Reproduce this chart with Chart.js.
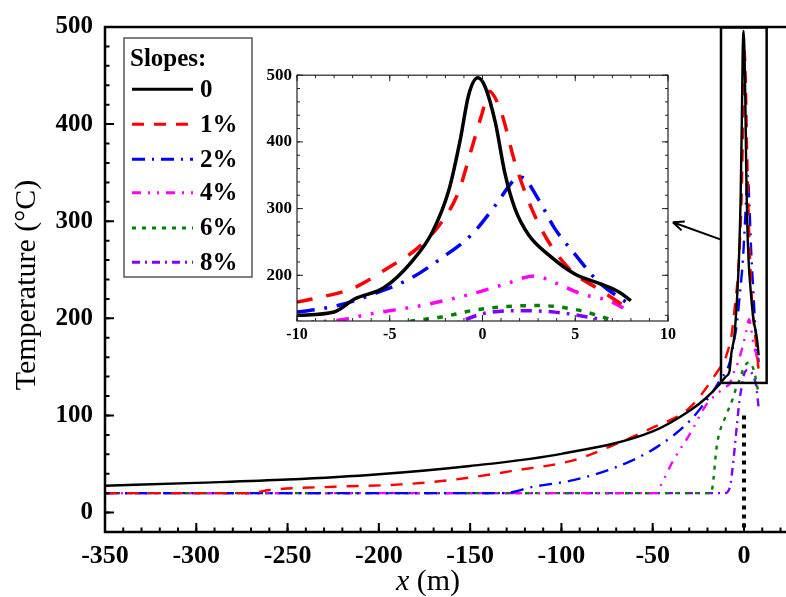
<!DOCTYPE html>
<html>
<head>
<meta charset="utf-8">
<script src="https://cdn.jsdelivr.net/npm/chart.js@4.4.1/dist/chart.umd.min.js"></script>
<style>
  html, body { margin: 0; padding: 0; background: #fff; }
  #wrap { position: relative; width: 786px; height: 597px; overflow: hidden; }
  #main { position: absolute; left: 0; top: 0; }
  #inset { position: absolute; left: 250px; top: 60px; }
</style>
</head>
<body>
<div id="wrap">
  <canvas id="main" width="786" height="597"></canvas>
  <canvas id="inset" width="430" height="290"></canvas>
</div>
<script>
// ── Data ──
const slopeLabels = ['0', '1%', '2%', '4%', '6%', '8%'];
const slopeColors = ['#000000', '#ff0000', '#0000ff', '#ff00ff', '#008000', '#8000ff'];
const slopeDash = [[], [12, 10], [13, 7, 2, 7], [9, 7, 2, 7, 2, 7], [4, 6], [8, 5, 2, 5]];

const x0 = [-350, -300, -250, -200, -150, -100, -50, -29.6, -20.5, -12.5, -10, -8, -6.9, -5.3, -3.8, -2.7, -1.8, -1.2, -0.75, -0.25, 0.15, 0.7, 1.2, 1.75, 2.5, 3.55, 5, 6.4, 7.4, 8];
const t0 = [27.6, 30.6, 34, 39.5, 48, 60.5, 83.5, 105, 118.5, 134, 140, 145, 164.5, 181.7, 221, 265, 329, 403, 470, 496, 482, 428, 354, 300, 260, 231, 201.5, 186.7, 174.3, 162];

const x1 = [-350, -270, -261, -225, -188, -161, -124.5, -93.5, -69.7, -51.5, -29.6, -15, -10, -9.2, -6.9, -5.1, -3.5, -2.2, -1.3, -0.6, 0, 0.35, 1.0, 1.75, 2.65, 3.55, 4.8, 6.4, 8];
const t1 = [20, 20, 23, 26.6, 29, 33.4, 43.6, 53.8, 70.9, 86.2, 108.3, 144, 160, 164.5, 181.7, 211, 240.8, 280, 324.5, 388.5, 445, 476, 445, 368.8, 300, 250.7, 206.4, 177, 147];

const x2 = [-350, -132, -115.4, -93.5, -69.7, -47.8, -29.6, -16.8, -12.2, -10, -7.8, -5.4, -3.8, -2.2, -0.6, 0.7, 1.75, 2.1, 3.0, 3.9, 5.0, 6.2, 8];
const t2 = [20, 20, 26.6, 33.4, 47, 67.4, 94.7, 125.3, 139, 144.8, 154.7, 177, 196.5, 226, 260.6, 305, 344, 347, 314.6, 270, 231, 191.6, 154.7];

const x3 = [-350, -48, -46, -38.7, -29.6, -20.4, -13, -9.5, -7.7, -6, -3.3, -0.6, 1.2, 2.8, 3.9, 5.35, 6.8, 8];
const t3 = [20, 20, 26.6, 53.8, 81, 111.7, 125, 130, 133, 142.4, 154.7, 172, 186.7, 199, 189, 172, 162, 144.8];

const x4 = [-350, -18, -16.8, -15, -9.5, -5.9, -3.8, -2.2, -0.6, 1.2, 3.0, 4.8, 6.2, 7.1, 8];
const t4 = [20, 20, 33.4, 67.4, 101.5, 118.5, 131.5, 137.4, 147, 153, 154.7, 149.8, 140, 131.5, 122];

const x5 = [-350, -10.4, -7.7, -5.8, -4, -2.5, -1.1, 0, 1.9, 3.9, 5.7, 6.6, 8];
const t5 = [20, 20, 26.6, 53.8, 87.9, 115, 131.5, 142.4, 147, 144.8, 137.4, 131.5, 108];

const seriesX = [x0, x1, x2, x3, x4, x5];
const seriesT = [t0, t1, t2, t3, t4, t5];

const xMainTicks = [-350, -300, -250, -200, -150, -100, -50, 0];
const yMainTicks = [0, 100, 200, 300, 400, 500];
const xInsetTicks = [-10, -5, 0, 5, 10];
const yInsetTicks = [200, 300, 400, 500];

// ── Helpers ──
const SERIF = "'Liberation Serif', 'Times New Roman', serif";

function makeSets(width, dashScale) {
  return seriesX.map((xs, i) => ({
    label: slopeLabels[i],
    data: xs.map((x, j) => ({ x, y: seriesT[i][j] })),
    borderColor: slopeColors[i],
    borderWidth: width,
    borderDash: slopeDash[i].map(d => d * dashScale),
    pointRadius: 0,
    fill: false,
    cubicInterpolationMode: 'monotone'
  }));
}

function range(a, b, step) {
  const out = [];
  for (let v = a; v <= b + 1e-9; v += step) out.push(v);
  return out;
}

function tickMarks(ctx, scale, values, len, side, area) {
  ctx.beginPath();
  values.forEach(v => {
    const p = scale.getPixelForValue(v);
    if (side === 'bottom') { ctx.moveTo(p, area.bottom); ctx.lineTo(p, area.bottom - len); }
    if (side === 'top') { ctx.moveTo(p, area.top); ctx.lineTo(p, area.top + len); }
    if (side === 'left') { ctx.moveTo(area.left, p); ctx.lineTo(area.left + len, p); }
    if (side === 'right') { ctx.moveTo(area.right, p); ctx.lineTo(area.right - len, p); }
  });
  ctx.stroke();
}

// ── Main chart decorations ──
const mainDecor = {
  id: 'mainDecor',
  afterDraw(chart) {
    const ctx = chart.ctx;
    const a = chart.chartArea;
    const xs = chart.scales.x, ys = chart.scales.y;
    ctx.save();
    ctx.strokeStyle = '#000';
    ctx.lineCap = 'butt';

    // frame (left, top, bottom)
    ctx.lineWidth = 2.5;
    ctx.beginPath();
    ctx.moveTo(chart.width, a.top); ctx.lineTo(a.left, a.top);
    ctx.lineTo(a.left, a.bottom); ctx.lineTo(chart.width, a.bottom);
    ctx.stroke();

    // inward ticks
    ctx.lineWidth = 2;
    tickMarks(ctx, xs, range(-350, 20, 10), 4.5, 'bottom', a);
    tickMarks(ctx, xs, range(-350, 0, 50), 9, 'bottom', a);
    tickMarks(ctx, ys, range(-20, 500, 20), 4.5, 'left', a);
    tickMarks(ctx, ys, range(0, 500, 100), 9, 'left', a);

    // zoom rectangle
    const rx1 = xs.getPixelForValue(-12.6), rx2 = xs.getPixelForValue(12.4);
    const ry1 = ys.getPixelForValue(499.5), ry2 = ys.getPixelForValue(133.5);
    ctx.lineWidth = 2.5;
    ctx.strokeRect(rx1, ry1, rx2 - rx1, ry2 - ry1);

    // arrow to inset
    const ax1 = rx1, ay1 = ys.getPixelForValue(281);
    const ax2 = xs.getPixelForValue(-39), ay2 = ys.getPixelForValue(299);
    ctx.lineWidth = 2;
    ctx.beginPath();
    ctx.moveTo(ax1, ay1); ctx.lineTo(ax2, ay2);
    const ang = Math.atan2(ay1 - ay2, ax1 - ax2);
    [0.4, -0.4].forEach(d => {
      ctx.moveTo(ax2, ay2);
      ctx.lineTo(ax2 + 12 * Math.cos(ang + d), ay2 + 12 * Math.sin(ang + d));
    });
    ctx.stroke();

    // dotted vertical line at x = 0
    const zx = xs.getPixelForValue(0);
    ctx.lineWidth = 4;
    ctx.setLineDash([4, 5]);
    ctx.beginPath();
    ctx.moveTo(zx, ys.getPixelForValue(100)); ctx.lineTo(zx, a.bottom);
    ctx.stroke();
    ctx.setLineDash([]);

    // legend
    ctx.fillStyle = '#fff';
    ctx.fillRect(124, 38, 128, 239);
    ctx.strokeStyle = '#555';
    ctx.lineWidth = 1.5;
    ctx.strokeRect(124, 38, 128, 239);
    ctx.fillStyle = '#000';
    ctx.font = `bold 25px ${SERIF}`;
    ctx.textBaseline = 'middle';
    ctx.textAlign = 'left';
    ctx.fillText('Slopes:', 130, 60);
    const rowY = [89.3, 124.3, 159.3, 192.7, 228, 262.3];
    slopeLabels.forEach((lab, i) => {
      ctx.strokeStyle = slopeColors[i];
      ctx.lineWidth = 3;
      ctx.setLineDash(slopeDash[i]);
      ctx.beginPath();
      ctx.moveTo(132, rowY[i]); ctx.lineTo(193, rowY[i]);
      ctx.stroke();
      ctx.setLineDash([]);
      ctx.fillText(lab, 200, rowY[i] + 1);
    });

    // axis titles
    ctx.font = `30px ${SERIF}`;
    ctx.textBaseline = 'alphabetic';
    ctx.save();
    ctx.translate(35, 285);
    ctx.rotate(-Math.PI / 2);
    ctx.textAlign = 'center';
    ctx.fillText('Temperature (°C)', 0, 0);
    ctx.restore();

    ctx.font = `italic 30px ${SERIF}`;
    const wx = ctx.measureText('x').width;
    ctx.font = `30px ${SERIF}`;
    const wr = ctx.measureText(' (m)').width;
    const sx = 428 - (wx + wr) / 2;
    ctx.textAlign = 'left';
    ctx.font = `italic 30px ${SERIF}`;
    ctx.fillText('x', sx, 590);
    ctx.font = `30px ${SERIF}`;
    ctx.fillText(' (m)', sx + wx, 590);
    ctx.restore();
  }
};

new Chart(document.getElementById('main'), {
  type: 'line',
  data: { datasets: makeSets(2.4, 1) },
  options: {
    responsive: false,
    animation: false,
    layout: { padding: { top: 23, right: 0, left: 0, bottom: 0 } },
    plugins: { legend: { display: false }, tooltip: { enabled: false } },
    scales: {
      x: {
        type: 'linear', min: -350, max: 23,
        afterBuildTicks: s => { s.ticks = xMainTicks.map(v => ({ value: v })); },
        afterFit: s => { s.height = 65; },
        grid: { display: false, drawTicks: false },
        border: { display: false },
        ticks: { color: '#000', padding: 9, maxRotation: 0, autoSkip: false, font: { family: SERIF, weight: 'bold', size: 26 } }
      },
      y: {
        type: 'linear', min: -20, max: 500,
        afterBuildTicks: s => { s.ticks = yMainTicks.map(v => ({ value: v })); },
        afterFit: s => { s.width = 105; },
        grid: { display: false, drawTicks: false },
        border: { display: false },
        ticks: { color: '#000', padding: 12, autoSkip: false, font: { family: SERIF, weight: 'bold', size: 25 } }
      }
    }
  },
  plugins: [mainDecor]
});

// ── Inset ──
const insetDecor = {
  id: 'insetDecor',
  beforeDatasetsDraw(chart) {
    const a = chart.chartArea;
    chart.ctx.save();
    chart.ctx.fillStyle = '#fff';
    chart.ctx.fillRect(a.left, a.top, a.right - a.left, a.bottom - a.top);
    chart.ctx.restore();
  },
  afterDraw(chart) {
    const ctx = chart.ctx;
    const a = chart.chartArea;
    const xs = chart.scales.x, ys = chart.scales.y;
    ctx.save();
    ctx.strokeStyle = '#222';
    ctx.lineWidth = 1.2;
    ctx.strokeRect(a.left, a.top, a.right - a.left, a.bottom - a.top);
    ctx.lineWidth = 1;
    ['bottom', 'top'].forEach(side => {
      tickMarks(ctx, xs, range(-10, 10, 1), 3, side, a);
      tickMarks(ctx, xs, range(-10, 10, 5), 6, side, a);
    });
    ['left', 'right'].forEach(side => {
      tickMarks(ctx, ys, range(140, 500, 20), 3, side, a);
      tickMarks(ctx, ys, range(200, 500, 100), 6, side, a);
    });
    ctx.restore();
  }
};

new Chart(document.getElementById('inset'), {
  type: 'line',
  data: { datasets: makeSets(3.5, 1.4) },
  options: {
    responsive: false,
    animation: false,
    layout: { padding: { top: 11, right: 12, left: 0, bottom: 0 } },
    plugins: { legend: { display: false }, tooltip: { enabled: false } },
    scales: {
      x: {
        type: 'linear', min: -10, max: 10,
        afterBuildTicks: s => { s.ticks = xInsetTicks.map(v => ({ value: v })); },
        afterFit: s => { s.height = 29; },
        grid: { display: false, drawTicks: false },
        border: { display: false },
        ticks: { color: '#000', padding: 4, maxRotation: 0, autoSkip: false, font: { family: SERIF, weight: 'bold', size: 16 } }
      },
      y: {
        type: 'linear', min: 131.5, max: 500,
        afterBuildTicks: s => { s.ticks = yInsetTicks.map(v => ({ value: v })); },
        afterFit: s => { s.width = 47; },
        grid: { display: false, drawTicks: false },
        border: { display: false },
        ticks: { color: '#000', padding: 5, autoSkip: false, font: { family: SERIF, weight: 'bold', size: 17 } }
      }
    }
  },
  plugins: [insetDecor]
});
</script>
</body>
</html>
